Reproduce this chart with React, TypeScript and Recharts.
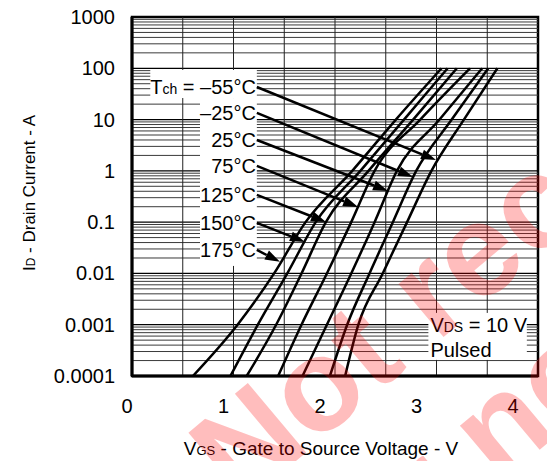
import React from 'react';
import { LineChart, Line, XAxis, YAxis, ReferenceArea, ReferenceLine, Label } from 'recharts';

const FONT = '"Liberation Sans", Arial, sans-serif';

// drain current levels (A) where each curve was read
const currents = [0.0001, 0.001, 0.01, 0.1, 1, 10, 100];

// gate voltage (V) per curve at those currents
const vgsM55 = [2.1, 2.23, 2.47, 2.71, 2.95, 3.27, 3.6];
const vgsM25 = [1.95, 2.12, 2.34, 2.57, 2.8, 3.15, 3.51];
const vgs25 = [1.68, 1.92, 2.16, 2.39, 2.61, 3.03, 3.45];
const vgs75 = [1.44, 1.67, 1.92, 2.16, 2.39, 2.84, 3.33];
const vgs125 = [1.13, 1.42, 1.67, 1.91, 2.33, 2.77, 3.2];
const vgs150 = [0.97, 1.24, 1.53, 1.81, 2.25, 2.68, 3.11];
const vgs175 = [0.6, 1.04, 1.4, 1.71, 2.17, 2.6, 3.05];

const temps = ['–55°C', '–25°C', '25°C', '75°C', '125°C', '150°C', '175°C'];
const curves = [vgsM55, vgsM25, vgs25, vgs75, vgs125, vgs150, vgs175];

// arrow annotations: label end -> point on curve
const arrowFromV = 1.23;
const arrowFromI = [43.2, 13.5, 4.0, 1.25, 0.339, 0.0964, 0.0287];
const arrowToV = [2.995, 2.768, 2.522, 2.227, 1.911, 1.704, 1.458];
const arrowToI = [1.63, 0.76, 0.406, 0.198, 0.101, 0.0411, 0.0168];

const xTicks = [0, 1, 2, 3, 4];
const yTicks = [0.0001, 0.001, 0.01, 0.1, 1, 10, 100, 1000];
const xGrid = [0.5, 1, 1.5, 2, 2.5, 3, 3.5];
const yGrid: number[] = [];
for (let k = -4; k <= 2; k++) {
  for (let m = 2; m <= 9; m++) yGrid.push(Number((m * Math.pow(10, k)).toPrecision(3)));
}
const yMajor = [0.001, 0.01, 0.1, 1, 10, 100];

const series = curves.map((vs) => vs.map((v, i) => ({ v, i: currents[i] })));

const makeArrow = (idx: number) => (p: any) => {
  const { x1, y1, x2, y2 } = p;
  const ang = Math.atan2(y2 - y1, x2 - x1);
  const len = 15;
  const half = 5;
  const bx = x2 - len * Math.cos(ang);
  const by = y2 - len * Math.sin(ang);
  const px = -Math.sin(ang) * half;
  const py = Math.cos(ang) * half;
  return (
    <g>
      <line x1={x1} y1={y1} x2={bx} y2={by} stroke="#000" strokeWidth={2.5} />
      <polygon points={`${x2},${y2} ${bx + px},${by + py} ${bx - px},${by - py}`} fill="#000" />
      <text x={x1 - 1} y={y1 + 7} textAnchor="end" fontFamily={FONT} fontSize={20} fill="#000">
        {idx === 0 ? (
          <>
            T<tspan fontSize={14}>ch</tspan> = {temps[idx]}
          </>
        ) : (
          temps[idx]
        )}
      </text>
    </g>
  );
};

// white mask drawn between the two segment ends
const whiteBox = (p: any) => {
  const x = Math.min(p.x1, p.x2);
  const y = Math.min(p.y1, p.y2);
  return <rect x={x} y={y} width={Math.abs(p.x2 - p.x1)} height={Math.abs(p.y2 - p.y1)} fill="#fff" />;
};

const conditionBox = (p: any) => {
  const x = Math.min(p.x1, p.x2);
  const y = Math.min(p.y1, p.y2);
  return (
    <g>
      <rect x={x} y={y} width={Math.abs(p.x2 - p.x1)} height={Math.abs(p.y2 - p.y1)} fill="#fff" />
      <text x={x + 2} y={y + 19} fontFamily={FONT} fontSize={20} fill="#000">
        V<tspan fontSize={14}>DS</tspan> = 10 V
      </text>
      <text x={x + 2} y={y + 44} fontFamily={FONT} fontSize={20} fill="#000">
        Pulsed
      </text>
    </g>
  );
};

const XTick = (p: any) => {
  const { x, y, payload } = p;
  return (
    <text x={x - 5 - payload.value * 5} y={y + 37} textAnchor="middle" fontFamily={FONT} fontSize={20} fill="#000">
      {payload.value}
    </text>
  );
};

const YTick = (p: any) => {
  const { x, y, payload } = p;
  return (
    <text x={x} y={y + 7} textAnchor="end" fontFamily={FONT} fontSize={20} fill="#000">
      {String(payload.value)}
    </text>
  );
};

const XTitle = (p: any) => {
  const vb = p.viewBox;
  return (
    <text x={vb.x + vb.width / 2 - 14} y={vb.y + 79} textAnchor="middle" fontFamily={FONT} fontSize={19} fill="#000">
      V<tspan fontSize={13}>GS</tspan> - Gate to Source Voltage - V
    </text>
  );
};

const YTitle = () => (
  <text x={35} y={193} transform="rotate(-90 35 193)" textAnchor="middle" fontFamily={FONT} fontSize={17} fill="#000">
    I<tspan fontSize={12}>D</tspan> - Drain Current - A
  </text>
);

export default function App() {
  return (
    <div style={{ position: 'absolute', left: 0, top: 0, width: 547, height: 461, background: '#fff' }}>
      <LineChart width={547} height={461} margin={{ top: 17, right: 9, bottom: 0, left: 0 }}>
        <XAxis
          dataKey="v"
          type="number"
          domain={[0, 4]}
          ticks={xTicks}
          height={85}
          tickSize={0}
          tickMargin={0}
          tickLine={false}
          axisLine={{ stroke: '#000', strokeWidth: 3 }}
          tick={<XTick />}
        >
          <Label content={<XTitle />} />
        </XAxis>
        <YAxis
          type="number"
          scale="log"
          domain={[0.0001, 1000]}
          ticks={yTicks}
          allowDataOverflow
          width={132}
          tickSize={0}
          tickMargin={17}
          tickLine={false}
          axisLine={{ stroke: '#000', strokeWidth: 3 }}
          tick={<YTick />}
        >
          <Label content={<YTitle />} />
        </YAxis>
        {yGrid.map((v) => (
          <ReferenceLine key={'h' + v} y={v} stroke="#3a3a3a" strokeWidth={1} />
        ))}
        {yMajor.map((v) => (
          <ReferenceLine key={'H' + v} y={v} stroke="#000" strokeWidth={1.2} />
        ))}
        {xGrid.map((v) => (
          <ReferenceLine key={'v' + v} x={v} stroke="#222" strokeWidth={1} />
        ))}
        <ReferenceLine segment={[{ x: 0.18, y: 26.3 }, { x: 1.23, y: 92.7 }]} shape={whiteBox} />
        <ReferenceLine segment={[{ x: 0.67, y: 0.014 }, { x: 1.23, y: 26.3 }]} shape={whiteBox} />
        <ReferenceLine segment={[{ x: 2.92, y: 0.000206 }, { x: 3.89, y: 0.0017 }]} shape={conditionBox} />
        {series.map((d, k) => (
          <Line
            key={temps[k]}
            data={d}
            dataKey="i"
            type="monotone"
            stroke="#000"
            strokeWidth={2.5}
            dot={false}
            isAnimationActive={false}
          />
        ))}
        {arrowToV.map((tv, k) => (
          <ReferenceLine
            key={'a' + k}
            segment={[
              { x: arrowFromV, y: arrowFromI[k] },
              { x: tv, y: arrowToI[k] },
            ]}
            shape={makeArrow(k)}
          />
        ))}
        <ReferenceArea x1={0} x2={4} y1={0.0001} y2={1000} fill="none" stroke="#000" strokeWidth={2.5} />
      </LineChart>
      <svg width={547} height={461} style={{ position: 'absolute', left: 0, top: 0, pointerEvents: 'none' }}>
        <g transform="translate(240 508) rotate(-40)" fontFamily={FONT} fontWeight="bold" fontSize={132} fill="#ff0000" fillOpacity={0.26}>
          <text x={0} y={0}>Not recommended</text>
          <text x={0} y={148}>for new design</text>
        </g>
      </svg>
    </div>
  );
}
